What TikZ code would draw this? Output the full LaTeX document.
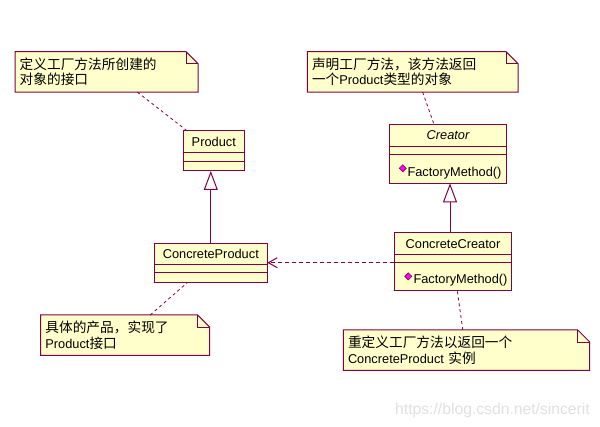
\documentclass[tikz,border=0pt]{standalone}
\usepackage{fontspec}
\setmainfont{Liberation Sans}
\newfontfamily\cjk[Scale=1.07]{Noto Sans CJK SC}
\usetikzlibrary{arrows.meta,calc,positioning}
\definecolor{umlred}{RGB}{128,0,64}
\definecolor{umlyellow}{RGB}{255,255,204}
\definecolor{umlpink}{RGB}{255,0,255}

% folded corner and outline of a note
\newcommand{\notecorner}[1]{%
\fill[white] ($(#1.north east)+(-12,0)$) -- (#1.north east) -- ($(#1.north east)+(0,12)$) -- cycle;
\draw[umlred, line width=1] (#1.north west) -- ($(#1.north east)+(-12,0)$) -- ($(#1.north east)+(0,12)$) -- (#1.south east) -- (#1.south west) -- cycle;
\draw[umlred, line width=0.8] ($(#1.north east)+(-12,0)$) |- ($(#1.north east)+(0,12)$);}

\begin{document}
\begin{tikzpicture}[x=1pt,y=-1pt,font=\fontsize{12.8}{15.5}\selectfont]

\tikzstyle{head} = [draw=umlred, fill=umlyellow, line width=1, inner sep=0, outer sep=0,
minimum height=21.5, anchor=north]
\tikzstyle{part} = [draw=umlred, fill=umlyellow, line width=1, inner sep=0, outer sep=0]
\tikzstyle{note} = [fill=umlyellow, inner sep=4.5, anchor=north west, align=left, minimum height=40]
\tikzstyle{optext} = [inner sep=0, anchor=west]
\tikzstyle{opmark} = [draw=umlred, fill=umlpink, line width=0.6, inner sep=0, minimum size=5, rotate=45]
\tikzstyle{link} = [draw=umlred, line width=0.8, dash pattern=on 3pt off 3pt]
\tikzstyle{inherit} = [draw=umlred, line width=1, -{Triangle[open, length=19pt, width=14pt]}]
\tikzstyle{depend} = [draw=umlred, line width=1, dash pattern=on 4pt off 3pt,
-{Straight Barb[length=9pt, width=10pt]}]

\useasboundingbox (0,0) rectangle (600,427);

% classes
\node [head, minimum width=61] (product) at (213.8,131) {Product};
\node [part, minimum width=61, minimum height=9, below=0pt of product] (productattr) {};
\node [part, minimum width=61, minimum height=9.5, below=0pt of productattr] (productops) {};

\node [head, minimum width=113, minimum height=21] (cproduct) at (210.8,243.3) {ConcreteProduct};
\node [part, minimum width=113, minimum height=8.5, below=0pt of cproduct] (cproductattr) {};
\node [part, minimum width=113, minimum height=9.5, below=0pt of cproductattr] (cproductops) {};

\node [head, minimum width=117.4, minimum height=22.4, font=\fontsize{12.8}{15.5}\selectfont\itshape]
(creator) at (448,124.3) {Creator};
\node [part, minimum width=117.4, minimum height=7.6, below=0pt of creator] (creatorattr) {};
\node [part, minimum width=117.4, minimum height=29, below=0pt of creatorattr] (creatorops) {};
\node [optext] (creatormethod) at ($(creatorops.west)+(18,4)$) {FactoryMethod()};
\node [opmark] (creatormark) at ($(creatormethod.west)+(-4.5,-4.5)$) {};

\node [head, minimum width=117.4, minimum height=22.7] (ccreator) at (453,232.3) {ConcreteCreator};
\node [part, minimum width=117.4, minimum height=7.7, below=0pt of ccreator] (ccreatorattr) {};
\node [part, minimum width=117.4, minimum height=28.3, below=0pt of ccreatorattr] (ccreatorops) {};
\node [optext] (ccreatormethod) at ($(ccreatorops.west)+(19,3)$) {FactoryMethod()};
\node [opmark] (ccreatormark) at ($(ccreatormethod.west)+(-5,-3.5)$) {};

% notes
\node [note, text width=173.7] (productnote) at (15,51.7)
{{\cjk 定义工厂方法所创建的}\\{\cjk 对象的接口}};
\notecorner{productnote}

\node [note, text width=201.4] (creatornote) at (307.3,51.7)
{{\cjk 声明工厂方法，该方法返回}\\{\cjk 一个}Product{\cjk 类型的对象}};
\notecorner{creatornote}

\node [note, text width=159.6] (cproductnote) at (40.7,315)
{{\cjk 具体的产品，实现了}\\Product{\cjk 接口}};
\notecorner{cproductnote}

\node [note, text width=237] (ccreatornote) at (343.3,330)
{{\cjk 重定义工厂方法以返回一个}\\ConcreteProduct {\cjk 实例}};
\notecorner{ccreatornote}

% connectors
\coordinate (ccreatorup) at ($(ccreator.north)+(-3,0)$);
\draw[inherit] (cproduct.north) -- (cproduct.north |- productops.south);
\draw[inherit] (ccreatorup) -- (ccreatorup |- creatorops.south);
\draw[depend] (ccreatorattr.south west) -- (ccreatorattr.south west -| cproduct.east);

\draw[link] ($(productnote.south west)!0.668!(productnote.south east)$) -- ($(product.north west)+(4,0)$);
\draw[link] ($(creatornote.south west)!0.547!(creatornote.south east)$) -- ($(creator.north west)+(44.7,0)$);
\draw[link] ($(cproductnote.north west)!0.648!(cproductnote.north east)$) -- ($(cproductops.south west)+(33.4,0)$);
\draw[link] ($(ccreatornote.north west)!0.485!(ccreatornote.north east)$) -- ($(ccreatorops.south west)+(63,0)$);

\node [text=black!12, font=\fontsize{15.7}{18}\selectfont] (watermark) at (492.5,410) {https://blog.csdn.net/sincerit};

\end{tikzpicture}
\end{document}
